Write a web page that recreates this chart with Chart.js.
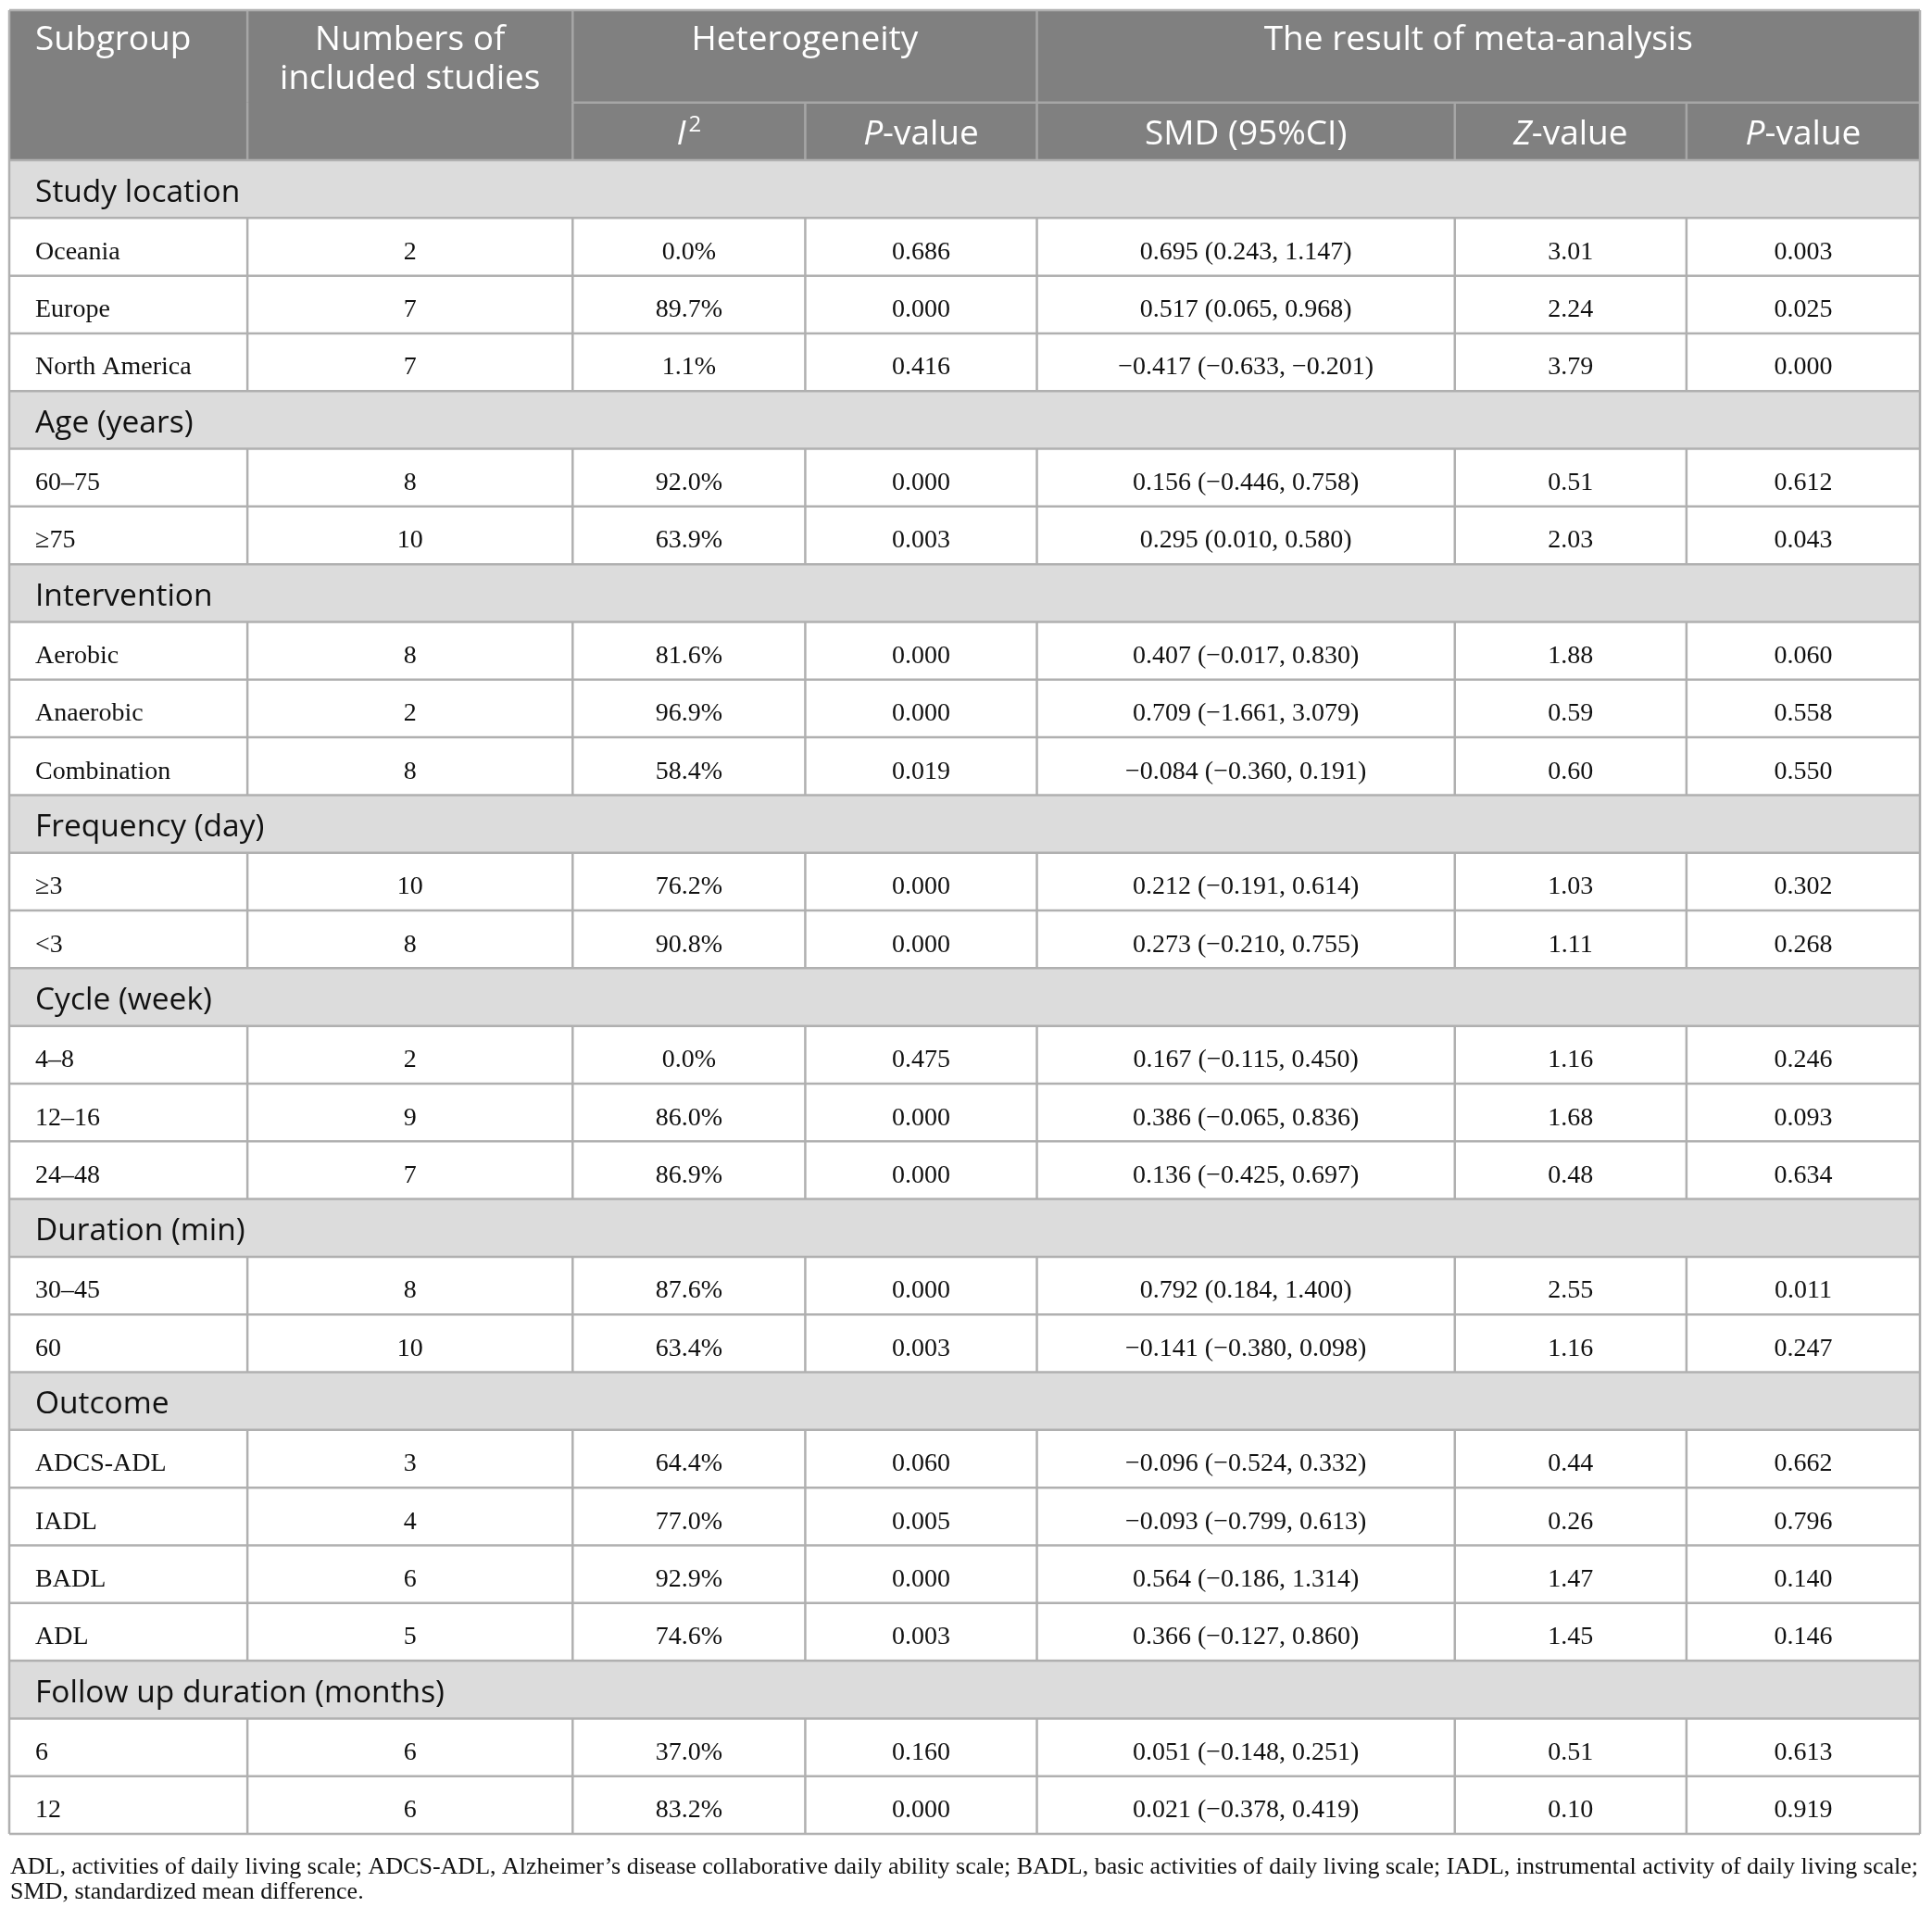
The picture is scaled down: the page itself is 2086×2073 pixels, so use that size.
<!DOCTYPE html>
<html>
<head>
<meta charset="utf-8">
<title>Subgroup meta-analysis</title>
<script src="https://cdn.jsdelivr.net/npm/chart.js@4.4.1/dist/chart.umd.min.js"></script>
<style>
  html, body { margin: 0; padding: 0; background: #ffffff; }
  canvas { display: block; }
</style>
</head>
<body>
<canvas id="metaTable" width="2086" height="2073"></canvas>
<script>
// table values
const groupNames = ['Study location', 'Age (years)', 'Intervention', 'Frequency (day)', 'Cycle (week)', 'Duration (min)', 'Outcome', 'Follow up duration (months)'];
const groupSizes = [3, 2, 3, 2, 3, 2, 4, 2];
const subgroups = ['Oceania', 'Europe', 'North America', '60–75', '≥75', 'Aerobic', 'Anaerobic', 'Combination', '≥3', '<3', '4–8', '12–16', '24–48', '30–45', '60', 'ADCS-ADL', 'IADL', 'BADL', 'ADL', '6', '12'];
const studyCounts = [2, 7, 7, 8, 10, 8, 2, 8, 10, 8, 2, 9, 7, 8, 10, 3, 4, 6, 5, 6, 6];
const i2Values = [0.0, 89.7, 1.1, 92.0, 63.9, 81.6, 96.9, 58.4, 76.2, 90.8, 0.0, 86.0, 86.9, 87.6, 63.4, 64.4, 77.0, 92.9, 74.6, 37.0, 83.2];
const hetPValues = [0.686, 0.000, 0.416, 0.000, 0.003, 0.000, 0.000, 0.019, 0.000, 0.000, 0.475, 0.000, 0.000, 0.000, 0.003, 0.060, 0.005, 0.000, 0.003, 0.160, 0.000];
const smdValues = [0.695, 0.517, -0.417, 0.156, 0.295, 0.407, 0.709, -0.084, 0.212, 0.273, 0.167, 0.386, 0.136, 0.792, -0.141, -0.096, -0.093, 0.564, 0.366, 0.051, 0.021];
const ciLower = [0.243, 0.065, -0.633, -0.446, 0.010, -0.017, -1.661, -0.360, -0.191, -0.210, -0.115, -0.065, -0.425, 0.184, -0.380, -0.524, -0.799, -0.186, -0.127, -0.148, -0.378];
const ciUpper = [1.147, 0.968, -0.201, 0.758, 0.580, 0.830, 3.079, 0.191, 0.614, 0.755, 0.450, 0.836, 0.697, 1.400, 0.098, 0.332, 0.613, 1.314, 0.860, 0.251, 0.419];
const zValues = [3.01, 2.24, 3.79, 0.51, 2.03, 1.88, 0.59, 0.60, 1.03, 1.11, 1.16, 1.68, 0.48, 2.55, 1.16, 0.44, 0.26, 1.47, 1.45, 0.51, 0.10];
const pValues = [0.003, 0.025, 0.000, 0.612, 0.043, 0.060, 0.558, 0.550, 0.302, 0.268, 0.246, 0.093, 0.634, 0.011, 0.247, 0.662, 0.796, 0.140, 0.146, 0.613, 0.919];
const footnoteLines = [
  'ADL, activities of daily living scale; ADCS-ADL, Alzheimer’s disease collaborative daily ability scale; BADL, basic activities of daily living scale; IADL, instrumental activity of daily living scale;',
  'SMD, standardized mean difference.'
];

// layout (x units are roughly pixels, y units are rows)
const colWidths = [257, 351, 251, 250, 451, 250, 252];
const colEdges = colWidths.reduce((acc, w) => { acc.push(acc[acc.length - 1] + w); return acc; }, [0]);
const HEAD1 = 1.6;
const HEAD2 = 1.0;
const bodyTop = HEAD1 + HEAD2;
const BASE = 0.715;          // baseline position inside a row
const LEFT_PAD = 28;

const HEAD_FONT = '"Open Sans", "Noto Sans", sans-serif';
const BODY_FONT = '"Liberation Serif", "Times New Roman", serif';
const headSize = 37;
const groupSize = 33.5;
const bodySize = 28;

const fmtMinus = v => (v < 0 ? '−' : '') + Math.abs(v).toFixed(3);

// flatten groups into rows
const rows = [];
let k = 0;
groupNames.forEach((g, gi) => {
  rows.push({ type: 'group', label: g });
  for (let j = 0; j < groupSizes[gi]; j++) rows.push({ type: 'data', idx: k++ });
});

const cellText = [
  i => subgroups[i],
  i => String(studyCounts[i]),
  i => i2Values[i].toFixed(1) + '%',
  i => hetPValues[i].toFixed(3),
  i => fmtMinus(smdValues[i]) + ' (' + fmtMinus(ciLower[i]) + ', ' + fmtMinus(ciUpper[i]) + ')',
  i => zValues[i].toFixed(2),
  i => pValues[i].toFixed(3)
];

// one dataset per column: a point at each cell's text anchor
const datasets = cellText.map((fn, c) => {
  const data = [];
  const labels = [];
  rows.forEach((r, ri) => {
    if (r.type !== 'data') return;
    const x = c === 0 ? colEdges[0] + LEFT_PAD : (colEdges[c] + colEdges[c + 1]) / 2;
    data.push({ x: x, y: bodyTop + ri + BASE });
    labels.push(fn(r.idx));
  });
  return { label: 'col' + c, data: data, cellLabels: labels, align: c === 0 ? 'left' : 'center', pointRadius: 0 };
});
const groupData = [];
rows.forEach((r, ri) => { if (r.type === 'group') groupData.push({ x: colEdges[0] + LEFT_PAD, y: bodyTop + ri + BASE }); });
datasets.push({ label: 'groups', data: groupData, cellLabels: groupNames, align: 'left', group: true, pointRadius: 0 });

function drawRich(ctx, runs, x, y, align, size, family) {
  const fontFor = r => (r.italic ? 'italic ' : '') + (r.sup ? Math.round(size * 0.66) : size) + 'px ' + family;
  let total = 0;
  runs.forEach(r => { ctx.font = fontFor(r); r.w = ctx.measureText(r.t).width + (r.sup ? 3 : 0); total += r.w; });
  let cx = align === 'center' ? x - total / 2 : x;
  ctx.textAlign = 'left';
  runs.forEach(r => {
    ctx.font = fontFor(r);
    ctx.fillText(r.t, cx + (r.sup ? 3 : 0), r.sup ? y - size * 0.36 : y);
    cx += r.w;
  });
}

const tablePlugin = {
  id: 'tablePlugin',
  beforeDatasetsDraw(chart) {
    const { ctx, scales: { x, y } } = chart;
    const px = v => x.getPixelForValue(v);
    const py = v => y.getPixelForValue(v);
    const L = px(colEdges[0]), R = px(colEdges[colEdges.length - 1]);
    ctx.save();
    ctx.fillStyle = '#808080';
    ctx.fillRect(L, py(0), R - L, py(bodyTop) - py(0));
    rows.forEach((r, ri) => {
      ctx.fillStyle = r.type === 'group' ? '#dcdcdc' : '#ffffff';
      ctx.fillRect(L, py(bodyTop + ri), R - L, py(bodyTop + ri + 1) - py(bodyTop + ri));
    });

    ctx.lineWidth = 2.5;
    const line = (x1, y1, x2, y2, color) => {
      ctx.strokeStyle = color;
      ctx.beginPath();
      ctx.moveTo(x1, y1);
      ctx.lineTo(x2, y2);
      ctx.stroke();
    };
    const headLine = '#a6a6a6';
    const bodyLine = '#b0b0b0';
    // header dividers
    [1, 2, 4].forEach(e => line(px(colEdges[e]), py(0), px(colEdges[e]), py(HEAD1), headLine));
    [1, 2, 3, 4, 5, 6].forEach(e => line(px(colEdges[e]), py(HEAD1), px(colEdges[e]), py(bodyTop), headLine));
    line(px(colEdges[2]), py(HEAD1), R, py(HEAD1), headLine);
    // body rows
    rows.forEach((r, ri) => {
      line(L, py(bodyTop + ri), R, py(bodyTop + ri), bodyLine);
      if (r.type === 'data') {
        for (let e = 1; e < colEdges.length - 1; e++) {
          line(px(colEdges[e]), py(bodyTop + ri), px(colEdges[e]), py(bodyTop + ri + 1), bodyLine);
        }
      }
    });
    line(L, py(bodyTop + rows.length), R, py(bodyTop + rows.length), bodyLine);
    // outer frame
    line(L, py(0), R, py(0), bodyLine);
    line(L, py(0), L, py(bodyTop + rows.length), bodyLine);
    line(R, py(0), R, py(bodyTop + rows.length), bodyLine);
    ctx.restore();
  },
  afterDatasetsDraw(chart) {
    const { ctx, scales: { x, y } } = chart;
    const px = v => x.getPixelForValue(v);
    const py = v => y.getPixelForValue(v);
    ctx.save();
    ctx.textBaseline = 'alphabetic';

    // header
    ctx.fillStyle = '#ffffff';
    const mid = (a, b) => px((colEdges[a] + colEdges[b]) / 2);
    const h1 = py(0.69), h1b = py(1.365), h2 = py(2.32);
    drawRich(ctx, [{ t: 'Subgroup' }], px(colEdges[0] + LEFT_PAD), h1, 'left', headSize, HEAD_FONT);
    drawRich(ctx, [{ t: 'Numbers of' }], mid(1, 2), h1, 'center', headSize, HEAD_FONT);
    drawRich(ctx, [{ t: 'included studies' }], mid(1, 2), h1b, 'center', headSize, HEAD_FONT);
    drawRich(ctx, [{ t: 'Heterogeneity' }], mid(2, 4), h1, 'center', headSize, HEAD_FONT);
    drawRich(ctx, [{ t: 'The result of meta-analysis' }], mid(4, 7), h1, 'center', headSize, HEAD_FONT);
    drawRich(ctx, [{ t: 'I', italic: true }, { t: '2', sup: true }], mid(2, 3), h2, 'center', headSize, HEAD_FONT);
    drawRich(ctx, [{ t: 'P', italic: true }, { t: '-value' }], mid(3, 4), h2, 'center', headSize, HEAD_FONT);
    drawRich(ctx, [{ t: 'SMD (95%CI)' }], mid(4, 5), h2, 'center', headSize, HEAD_FONT);
    drawRich(ctx, [{ t: 'Z', italic: true }, { t: '-value' }], mid(5, 6), h2, 'center', headSize, HEAD_FONT);
    drawRich(ctx, [{ t: 'P', italic: true }, { t: '-value' }], mid(6, 7), h2, 'center', headSize, HEAD_FONT);

    // cells, anchored on the dataset points
    chart.data.datasets.forEach((ds, di) => {
      const meta = chart.getDatasetMeta(di);
      ctx.fillStyle = '#111111';
      ctx.textAlign = ds.align;
      ctx.font = ds.group ? groupSize + 'px ' + HEAD_FONT : bodySize + 'px ' + BODY_FONT;
      meta.data.forEach((el, i) => ctx.fillText(ds.cellLabels[i], el.x, el.y));
    });

    // footnote under the table
    const area = chart.chartArea;
    let fs = 26;
    ctx.font = fs + 'px ' + BODY_FONT;
    const w = ctx.measureText(footnoteLines[0]).width;
    fs = fs * (area.right - area.left - 2) / w;
    ctx.font = fs.toFixed(2) + 'px ' + BODY_FONT;
    ctx.textAlign = 'left';
    ctx.fillStyle = '#111111';
    ctx.fillText(footnoteLines[0], area.left + 1, area.bottom + 43);
    ctx.fillText(footnoteLines[1], area.left + 1, area.bottom + 70);
    ctx.restore();
  }
};

new Chart(document.getElementById('metaTable'), {
  type: 'scatter',
  data: { datasets: datasets },
  options: {
    responsive: false,
    animation: false,
    events: [],
    layout: { padding: { left: 10, right: 13, top: 11, bottom: 93 } },
    plugins: { legend: { display: false }, tooltip: { enabled: false } },
    elements: { point: { radius: 0, hoverRadius: 0 } },
    scales: {
      x: { type: 'linear', min: 0, max: colEdges[colEdges.length - 1], display: false },
      y: { type: 'linear', min: 0, max: bodyTop + rows.length, reverse: true, display: false }
    }
  },
  plugins: [tablePlugin]
});
</script>
</body>
</html>
